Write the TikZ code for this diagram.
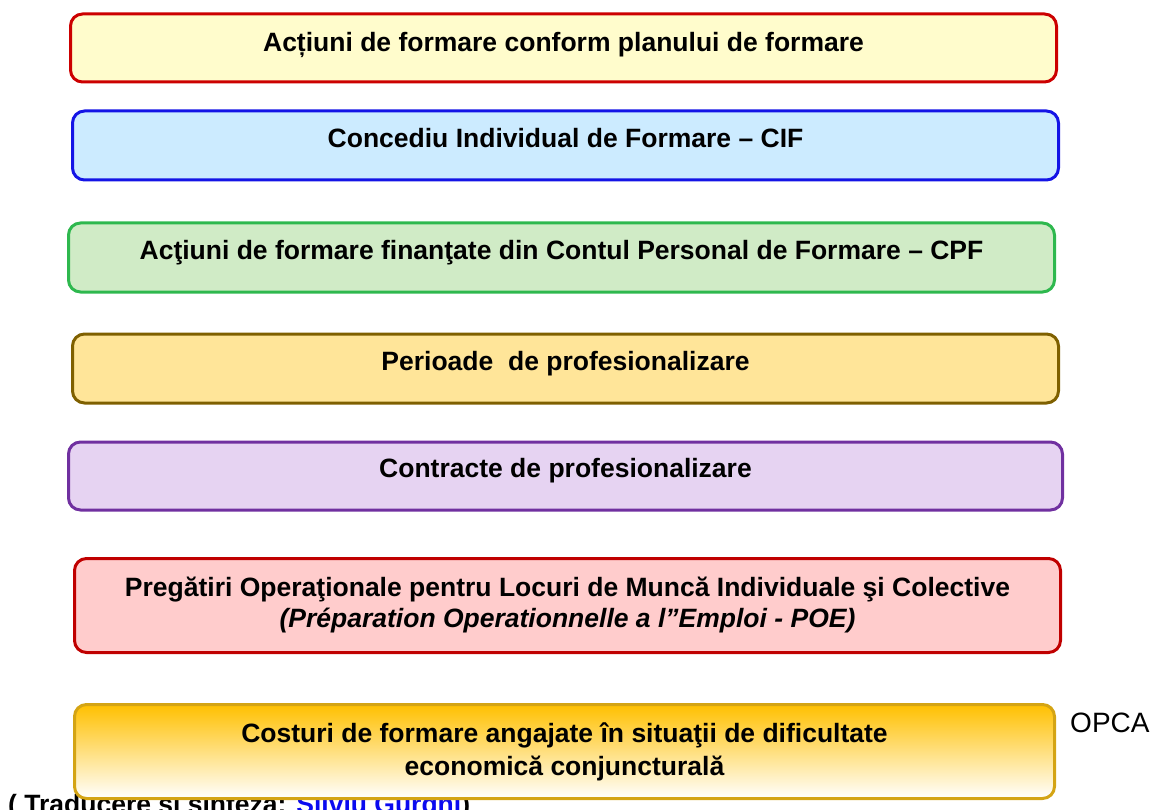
\documentclass[tikz,border=0pt]{standalone}
\usepackage{fontspec}
\setmainfont{Liberation Sans}
\colorlet{BoxOneFill}{yellow!20}
\definecolor{BoxOneLine}{HTML}{CC0000}
\definecolor{BoxTwoFill}{HTML}{CCEBFF}
\definecolor{BoxTwoLine}{HTML}{1414E6}
\definecolor{BoxThreeFill}{HTML}{D0EBC6}
\definecolor{BoxThreeLine}{HTML}{2EB84E}
\definecolor{BoxFourFill}{HTML}{FFE599}
\definecolor{BoxFourLine}{HTML}{7F6000}
\definecolor{BoxFiveFill}{HTML}{E6D3F2}
\definecolor{BoxFiveLine}{HTML}{7030A0}
\definecolor{BoxSixFill}{HTML}{FFCCCC}
\definecolor{BoxSixLine}{HTML}{C00000}
\definecolor{BoxSevenTop}{HTML}{FFC000}
\definecolor{BoxSevenLine}{HTML}{D4A414}
\definecolor{FooterBlue}{HTML}{0A0AF0}
\tikzset{
  formbox/.style={rectangle, rounded corners=12pt, line width=3pt,
    minimum width=986pt, minimum height=68pt, inner sep=0pt},
  formtext/.style={font=\fontsize{26.5}{31}\selectfont\bfseries, align=center, inner sep=0pt}
}

\begin{document}
\begin{tikzpicture}[x=1pt,y=-1pt]

    \useasboundingbox (0,0) rectangle (1155,810);

    % Nota de jos, ascunsa in parte de ultima caseta
    \begin{scope}
        \clip (0,0) rectangle (1155,810);
        \node[formtext, anchor=base west] (footer) at (8,813)
            {( Traducere şi sinteză: \textcolor{FooterBlue}{Silviu Gurghi})};
    \end{scope}

    % Casetele
    \node[formbox, draw=BoxOneLine, fill=BoxOneFill] (b1) at (563.5,48) {};
    \node[formbox, draw=BoxTwoLine, fill=BoxTwoFill, minimum height=69pt] (b2) at (565.5,145.5) {};
    \node[formbox, draw=BoxThreeLine, fill=BoxThreeFill, minimum height=69pt] (b3) at (561.5,257.5) {};
    \node[formbox, draw=BoxFourLine, fill=BoxFourFill, minimum height=69pt] (b4) at (565.5,368.5) {};
    \node[formbox, draw=BoxFiveLine, fill=BoxFiveFill, minimum width=994pt] (b5) at (565.5,476) {};
    \node[formbox, draw=BoxSixLine, fill=BoxSixFill, minimum height=94pt] (b6) at (567.5,605.5) {};
    \node[formbox, draw=BoxSevenLine, top color=BoxSevenTop, bottom color=white,
          minimum width=980pt, minimum height=94pt] (b7) at (564.5,751.5) {};

    % Textele
    \node[formtext] (t1) at ([yshift=3]b1.center) {Acțiuni de formare conform planului de formare};
    \node[formtext] (t2) at ([yshift=7]b2.center) {Concediu Individual de Formare – CIF};
    \node[formtext] (t3) at ([yshift=5]b3.center) {Acţiuni de formare finanţate din Contul Personal de Formare – CPF};
    \node[formtext] (t4) at ([yshift=5]b4.center) {Perioade\ \ de profesionalizare};
    \node[formtext] (t5) at ([yshift=5]b5.center) {Contracte de profesionalizare};
    \node[formtext] (t6) at ([yshift=0.5]b6.center)
        {Pregătiri Operaţionale pentru Locuri de Muncă Individuale şi Colective\\
         \itshape (Préparation Operationnelle a l”Emploi - POE)};
    \node[formtext, font=\fontsize{26.5}{33}\selectfont\bfseries] (t7) at (b7.center)
        {Costuri de formare angajate în situaţii de dificultate\\ economică conjuncturală};

    \node[font=\fontsize{28}{32}\selectfont, anchor=west, inner sep=0pt] (opca) at (1070,723) {OPCA};

\end{tikzpicture}
\end{document}
